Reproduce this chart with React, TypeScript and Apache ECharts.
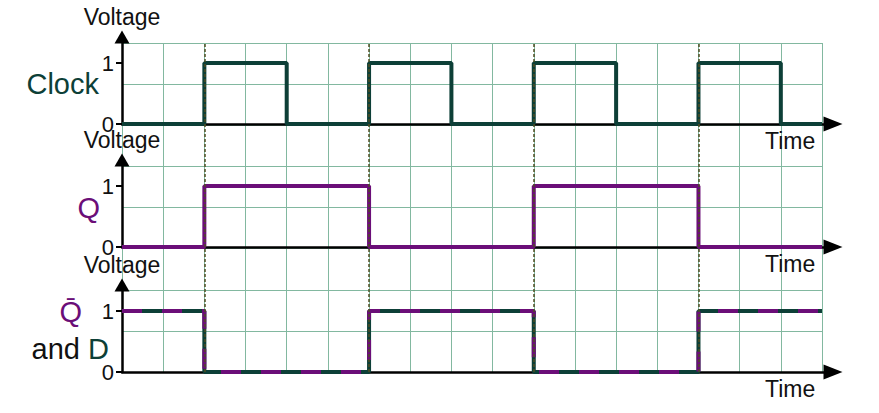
import React, { useEffect, useRef } from "react";
import * as echarts from "echarts";

// ---- data ----
const clockTimes = [0, 2, 4, 6, 8, 10, 12, 14, 16, 17];
const clockLevels = [0, 1, 0, 1, 0, 1, 0, 1, 0, 0];
const qTimes = [0, 2, 6, 10, 14, 17];
const qLevels = [0, 1, 0, 1, 0, 0];
const qBarTimes = [0, 2, 6, 10, 14, 17];
const qBarLevels = [1, 0, 1, 0, 1, 1];
const dLevels = [1, 0, 1, 0, 1, 1];
const risingEdges = [2, 6, 10, 14];
const yTickValues = [0, 1];
const panelLabels = ["Clock", "Q", "Q̄"];

const TEAL = "#0d3f37";
const PURPLE = "#6b0e78";
const GRID = "#82b8a0";
const FONT = "Liberation Sans, Arial, sans-serif";

const zip = (t: number[], v: number[]) => t.map((x, i) => [x, v[i]]);

export default function App() {
  const ref = useRef<HTMLDivElement>(null);
  useEffect(() => {
    if (!ref.current) return;
    const chart = echarts.init(ref.current, null, { renderer: "svg" });

    const L = 122, W = 700;
    const XMAX = 17;
    const unitX = W / XMAX;
    const EXT_X = 11; // axis line continues past grid to arrow
    const unitY = 61; // px between 0 and 1
    const PH = 87; // panel axis height incl. arrow stem
    const bottoms = [124, 247, 372];

    const dataXAxis = (gi: number) => ({
      type: "value",
      gridIndex: gi,
      min: 0,
      max: XMAX + EXT_X / unitX,
      name: "Time",
      nameLocation: "end",
      nameGap: -68,
      nameTextStyle: {
        fontSize: 23,
        color: "#111",
        fontFamily: FONT,
        verticalAlign: "top",
        align: "left",
        padding: [5, 0, 0, 0],
      },
      axisLine: {
        show: true,
        onZero: false,
        symbol: ["none", "triangle"],
        symbolSize: [15, 19],
        lineStyle: { color: "#000", width: 2.5 },
      },
      axisTick: { show: false },
      axisLabel: { show: false },
      splitLine: { show: false },
    });
    const dataYAxis = (gi: number) => ({
      type: "value",
      gridIndex: gi,
      min: 0,
      max: PH / unitY,
      name: "Voltage",
      nameLocation: "end",
      nameGap: 9,
      nameTextStyle: {
        fontSize: 23,
        color: "#111",
        fontFamily: FONT,
        align: "center",
        verticalAlign: "bottom",
      },
      axisLine: {
        show: true,
        onZero: false,
        symbol: ["none", "triangle"],
        symbolSize: [15, 13],
        lineStyle: { color: "#000", width: 2.5 },
      },
      axisTick: {
        show: true,
        length: 6,
        customValues: yTickValues,
        lineStyle: { color: "#000", width: 2 },
      },
      axisLabel: {
        show: true,
        customValues: yTickValues,
        fontSize: 22,
        color: "#111",
        fontFamily: FONT,
        margin: 8,
      },
      splitLine: { show: false },
    });

    const option: any = {
      animation: false,
      backgroundColor: "#fff",
      grid: [
        { left: L, top: 43, width: W, height: 329 },
        ...bottoms.map((b) => ({ left: L, top: b - PH, width: W + EXT_X, height: PH })),
      ],
      xAxis: [
        {
          type: "value",
          gridIndex: 0,
          min: 0,
          max: XMAX,
          interval: 1,
          axisLine: { show: false },
          axisTick: { show: false },
          axisLabel: { show: false },
          splitLine: { show: true, lineStyle: { color: GRID, width: 1 } },
        },
        dataXAxis(1),
        dataXAxis(2),
        dataXAxis(3),
      ],
      yAxis: [
        {
          type: "value",
          gridIndex: 0,
          min: 0,
          max: 8,
          interval: 1,
          axisLine: { show: false },
          axisTick: { show: false },
          axisLabel: { show: false },
          splitLine: { show: true, lineStyle: { color: GRID, width: 1 } },
        },
        dataYAxis(1),
        dataYAxis(2),
        dataYAxis(3),
      ],
      series: [
        {
          type: "line",
          xAxisIndex: 0,
          yAxisIndex: 0,
          data: [],
          silent: true,
          markLine: {
            silent: true,
            symbol: "none",
            label: { show: false },
            lineStyle: { color: "#4f4e22", type: [3, 2], width: 1.5 },
            data: risingEdges.map((x) => ({ xAxis: x })),
          },
        },
        {
          name: "Clock",
          type: "line",
          xAxisIndex: 1,
          yAxisIndex: 1,
          step: "end",
          showSymbol: false,
          data: zip(clockTimes, clockLevels),
          lineStyle: { color: TEAL, width: 4 },
        },
        {
          name: "Q",
          type: "line",
          xAxisIndex: 2,
          yAxisIndex: 2,
          step: "end",
          showSymbol: false,
          data: zip(qTimes, qLevels),
          lineStyle: { color: PURPLE, width: 4 },
        },
        {
          name: "D",
          type: "line",
          xAxisIndex: 3,
          yAxisIndex: 3,
          step: "end",
          showSymbol: false,
          data: zip(qBarTimes, dLevels),
          lineStyle: { color: TEAL, width: 4 },
        },
        {
          name: "Q̄",
          type: "line",
          xAxisIndex: 3,
          yAxisIndex: 3,
          step: "end",
          showSymbol: false,
          data: zip(qBarTimes, qBarLevels),
          lineStyle: { color: PURPLE, width: 4, type: [20, 20], dashOffset: 0 },
        },
      ],
      graphic: [
        {
          type: "text",
          x: 99,
          y: 84,
          style: {
            text: panelLabels[0],
            fill: TEAL,
            font: `29px ${FONT}`,
            textAlign: "right",
            textVerticalAlign: "middle",
          },
        },
        {
          type: "text",
          x: 100,
          y: 208,
          style: {
            text: panelLabels[1],
            fill: PURPLE,
            font: `29px ${FONT}`,
            textAlign: "right",
            textVerticalAlign: "middle",
          },
        },
        {
          type: "text",
          x: 82,
          y: 312,
          style: {
            text: panelLabels[2],
            fill: PURPLE,
            font: `29px ${FONT}`,
            textAlign: "right",
            textVerticalAlign: "middle",
          },
        },
        {
          type: "text",
          x: 109,
          y: 349,
          style: {
            text: "{a|and }{d|D}",
            textAlign: "right",
            textVerticalAlign: "middle",
            rich: {
              a: { fill: "#111", font: `29px ${FONT}` },
              d: { fill: TEAL, font: `29px ${FONT}` },
            },
          },
        },
      ],
    };
    chart.setOption(option);
    return () => chart.dispose();
  }, []);
  return (
    <div
      ref={ref}
      style={{ position: "fixed", left: 0, top: 0, width: 879, height: 413 }}
    />
  );
}
